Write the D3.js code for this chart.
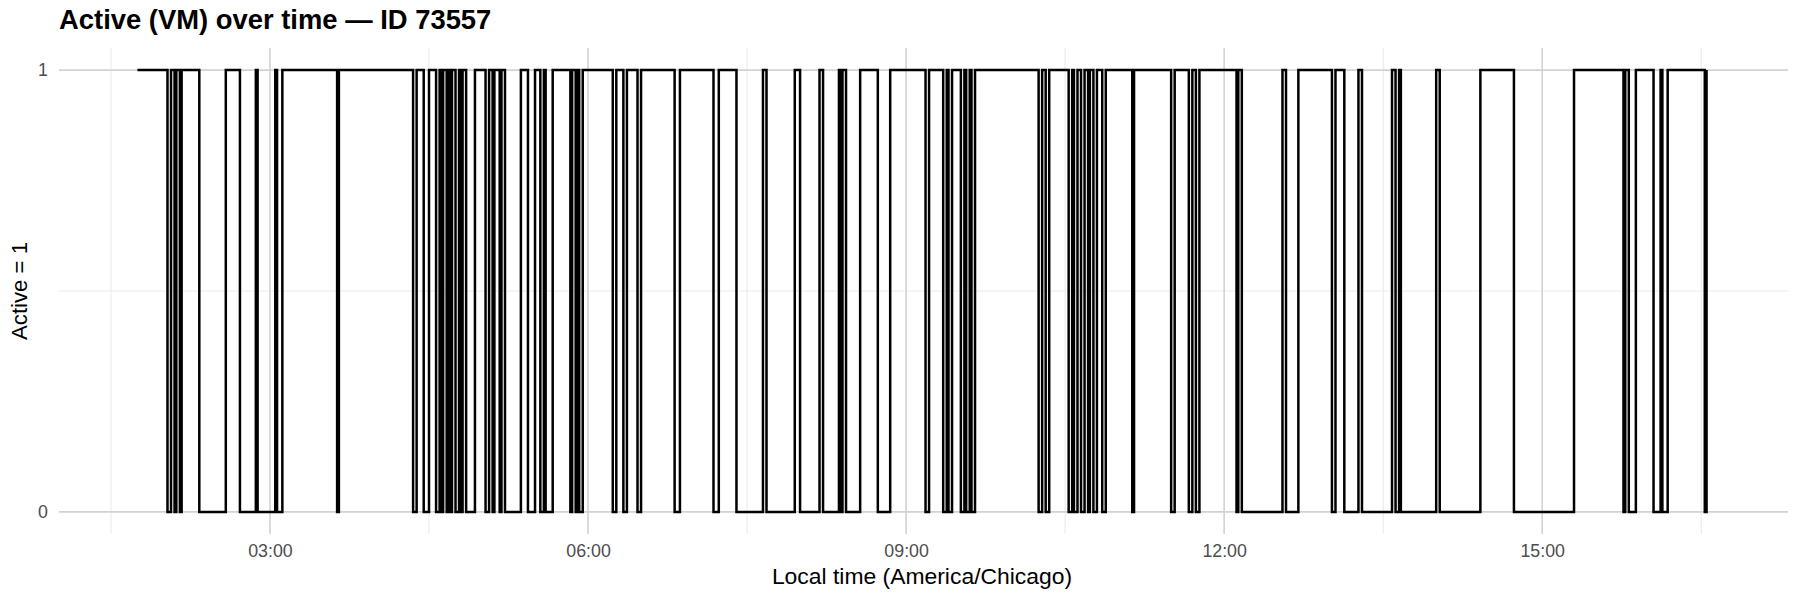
<!DOCTYPE html>
<html>
<head>
<meta charset="utf-8">
<script src="https://cdn.jsdelivr.net/npm/d3@7"></script>
<style>
  body { margin: 0; background: #ffffff; }
  text { font-family: "Liberation Sans", Arial, Helvetica, sans-serif; }
</style>
</head>
<body>
<svg id="chart" width="1800" height="600"></svg>
<script>
// ---- data (change points of a step series) ----
const changeTimes = [
  "01:45","02:02","02:04","02:06","02:07","02:09","02:10","02:20","02:35","02:43",
  "02:52","02:53","03:03","03:04","03:07","03:38","03:39","04:21","04:23","04:27",
  "04:30","04:34","04:36","04:37","04:38","04:40","04:41","04:42","04:43","04:45",
  "04:47","04:48","04:49","04:51","04:56","05:02","05:04","05:06","05:07","05:10",
  "05:11","05:13","05:22","05:26","05:30","05:33","05:35","05:36","05:40","05:50",
  "05:51","05:53","05:54","05:55","05:57","06:14","06:16","06:20","06:22","06:28",
  "06:30","06:49","06:52","07:11","07:14","07:24","07:39","07:41","07:57","08:00",
  "08:11","08:13","08:22","08:23","08:24","08:26","08:34","08:44","08:51","09:11",
  "09:13","09:21","09:23","09:24","09:26","09:31","09:33","09:34","09:36","09:37",
  "09:39","10:15","10:17","10:19","10:21","10:32","10:34","10:35","10:37","10:39",
  "10:41","10:43","10:44","10:46","10:48","10:51","10:53","11:08","11:09","11:30",
  "11:32","11:40","11:42","11:44","11:46","12:07","12:08","12:10","12:33","12:35",
  "12:42","13:01","13:03","13:08","13:16","13:18","13:35","13:37","13:39","13:40",
  "14:00","14:02","14:25","14:44","15:18","15:46","15:47","15:49","15:53","16:03",
  "16:07","16:08","16:11","16:32","16:33"
];
const activeValues = [
  1,0,1,0,1,0,1,0,1,0,
  1,0,1,0,1,0,1,0,1,0,
  1,0,1,0,1,0,1,0,1,0,
  1,0,1,0,1,0,1,0,1,0,
  1,0,1,0,1,0,1,0,1,0,
  1,0,1,0,1,0,1,0,1,0,
  1,0,1,0,1,0,1,0,1,0,
  1,0,1,0,1,0,1,0,1,0,
  1,0,1,0,1,0,1,0,1,0,
  1,0,1,0,1,0,1,0,1,0,
  1,0,1,0,1,0,1,0,1,0,
  1,0,1,0,1,0,1,0,1,0,
  1,0,1,0,1,0,1,0,1,0,
  1,0,1,0,1,0,1,0,1,0,
  1,0,1,0,1
];
const xTickLabels = ["03:00","06:00","09:00","12:00","15:00"];
const yTickValues = [0, 1];
const yMinorValues = [0.5];
const chartTitle = "Active (VM) over time \u2014 ID 73557";
const xTitle = "Local time (America/Chicago)";
const yTitle = "Active = 1";

// ---- build ----
const parseT = d3.timeParse("%H:%M");
const fmtT = d3.timeFormat("%H:%M");
const data = changeTimes.map((t, i) => ({ t: parseT(t), v: activeValues[i] }));

const svg = d3.select("#chart");
const panel = { left: 59, right: 1785, top: 48, bottom: 534 };

const ext = d3.extent(data, d => d.t);
const span = ext[1] - ext[0];
const x = d3.scaleTime()
  .domain([new Date(+ext[0] - 0.05 * span), new Date(+ext[1] + 0.05 * span)])
  .range([panel.left, panel.right]);
const y = d3.scaleLinear()
  .domain([-0.05, 1.05])
  .range([panel.bottom, panel.top]);

const majorX = xTickLabels.map(parseT);
const minorX = [];
majorX.forEach((t, i) => {
  const before = d3.timeMinute.offset(t, -90);
  if (before >= x.domain()[0]) minorX.push(before);
  if (i === majorX.length - 1) {
    const after = d3.timeMinute.offset(t, 90);
    if (after <= x.domain()[1]) minorX.push(after);
  }
});

const grid = svg.append("g");
// minor grid
grid.selectAll(".mx").data(minorX).join("line")
  .attr("x1", d => x(d)).attr("x2", d => x(d))
  .attr("y1", panel.top).attr("y2", panel.bottom)
  .attr("stroke", "#ebebeb").attr("stroke-width", 1.1);
grid.selectAll(".my").data(yMinorValues).join("line")
  .attr("x1", panel.left).attr("x2", panel.right + 3)
  .attr("y1", d => y(d)).attr("y2", d => y(d))
  .attr("stroke", "#ebebeb").attr("stroke-width", 1.1);
// major grid
grid.selectAll(".Mx").data(majorX).join("line")
  .attr("x1", d => x(d)).attr("x2", d => x(d))
  .attr("y1", panel.top).attr("y2", panel.bottom)
  .attr("stroke", "#d2d2d2").attr("stroke-width", 1.6);
grid.selectAll(".My").data(yTickValues).join("line")
  .attr("x1", panel.left).attr("x2", panel.right + 3)
  .attr("y1", d => y(d)).attr("y2", d => y(d))
  .attr("stroke", "#d2d2d2").attr("stroke-width", 1.6);

// step line
const line = d3.line()
  .x(d => x(d.t))
  .y(d => y(d.v))
  .curve(d3.curveStepAfter);
svg.append("path")
  .datum(data)
  .attr("d", line)
  .attr("fill", "none")
  .attr("stroke", "#000000")
  .attr("stroke-width", 2.5)
  .attr("stroke-linejoin", "miter");

// axes
const xAxis = d3.axisBottom(x).tickValues(majorX).tickFormat(fmtT).tickSize(0).tickPadding(0);
const gx = svg.append("g").attr("transform", `translate(0,${panel.bottom + 10})`).call(xAxis);
gx.select(".domain").remove();
gx.selectAll("text")
  .attr("dy", "0.71em")
  .attr("fill", "#4d4d4d")
  .style("font-size", "17.8px")
  .style("font-family", '"Liberation Sans", Arial, sans-serif');

const yAxis = d3.axisLeft(y).tickValues(yTickValues).tickFormat(d3.format("d")).tickSize(0).tickPadding(0);
const gy = svg.append("g").attr("transform", `translate(${panel.left - 11},0)`).call(yAxis);
gy.select(".domain").remove();
gy.selectAll("text")
  .attr("fill", "#4d4d4d")
  .style("font-size", "17.8px")
  .style("font-family", '"Liberation Sans", Arial, sans-serif');

// titles
svg.append("text")
  .attr("x", panel.left).attr("y", 29)
  .style("font-size", "27.4px").style("font-weight", "bold")
  .attr("fill", "#000")
  .text(chartTitle);

svg.append("text")
  .attr("x", (panel.left + panel.right) / 2).attr("y", 584)
  .attr("text-anchor", "middle")
  .style("font-size", "22.9px")
  .attr("fill", "#000")
  .text(xTitle);

svg.append("text")
  .attr("transform", `translate(27,${(panel.top + panel.bottom) / 2}) rotate(-90)`)
  .attr("text-anchor", "middle")
  .style("font-size", "22.2px")
  .attr("fill", "#000")
  .text(yTitle);
</script>
</body>
</html>
